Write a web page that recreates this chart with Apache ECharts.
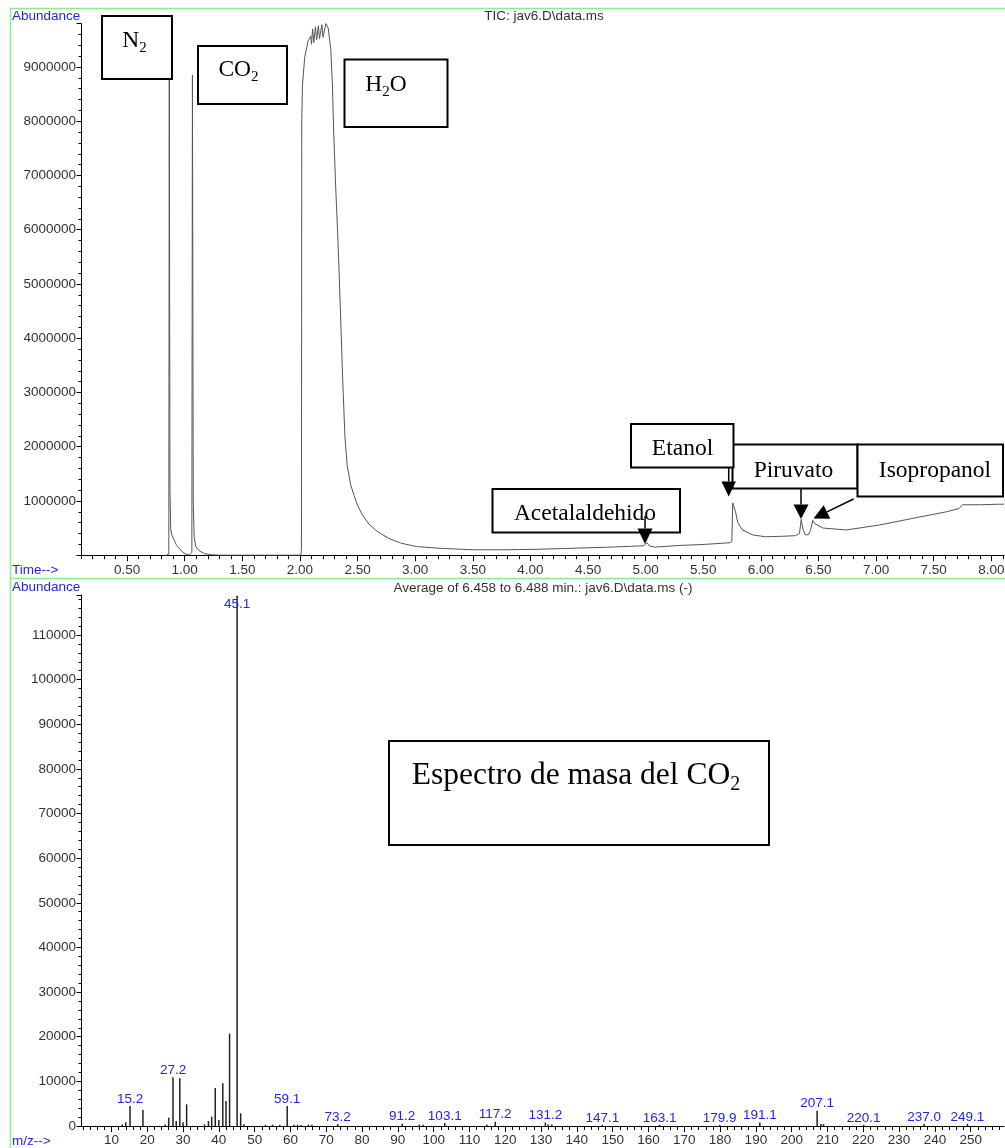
<!DOCTYPE html>
<html><head><meta charset="utf-8">
<script src="https://cdn.jsdelivr.net/npm/echarts@6/dist/echarts.min.js"></script>
<style>html,body{margin:0;padding:0;background:#fff}#c{width:1005px;height:1148px}</style>
</head><body><div id="c"></div>
<script>
// ---------- DATA ----------
// Total ion chromatogram (time in min, abundance)
const ticTime = [
  0.84, 0.862, 0.866, 0.872, 0.879, 0.89, 0.908, 0.93, 0.951, 0.98, 1.01, 1.04, 1.055,
  1.062, 1.067, 1.074, 1.082, 1.096, 1.125, 1.17, 1.22, 1.30,
  2.008, 2.013, 2.016, 2.022, 2.042, 2.071, 2.094,
  2.10, 2.11, 2.12, 2.135, 2.145, 2.16, 2.17, 2.19, 2.20, 2.225, 2.245,
  2.268, 2.282, 2.293, 2.31, 2.33, 2.35, 2.37, 2.39, 2.41, 2.44, 2.47, 2.50, 2.54, 2.60, 2.67, 2.77, 2.88, 3.01, 3.21, 3.50,
  3.80, 4.08, 4.40, 4.66, 4.94, 4.985, 5.01, 5.035, 5.08, 5.30, 5.52, 5.73, 5.748,
  5.756, 5.768, 5.78, 5.80, 5.84, 5.93, 6.04, 6.20, 6.30, 6.335, 6.35, 6.365, 6.385, 6.41, 6.43, 6.45, 6.47, 6.54, 6.74, 7.03, 7.32, 7.61, 7.72, 7.75, 7.78, 7.90, 8.07, 8.11
];
const ticAbund = [
  0, 20000, 9100000, 1200000, 470000, 360000, 280000, 180000, 128000, 60000, 20000, 5000, 0,
  50000, 8850000, 1000000, 340000, 158000, 84000, 30000, 10000, 0,
  0, 100000, 8030000, 8670000, 9190000, 9480000, 9570000,
  9420000, 9700000, 9450000, 9740000, 9500000, 9760000, 9520000, 9780000, 9550000, 9800000, 9720000,
  9320000, 8670000, 7800000, 6800000, 5800000, 4600000, 3300000, 2200000, 1650000, 1300000, 1100000, 920000, 750000, 570000, 440000, 310000, 220000, 160000, 128000, 100000,
  100000, 110000, 130000, 146000, 170000, 175000, 230000, 170000, 150000, 180000, 200000, 230000, 250000,
  960000, 990000, 800000, 600000, 465000, 373000, 340000, 350000, 360000, 400000, 660000, 480000, 380000, 373000, 450000, 640000, 580000, 500000, 465000, 557000, 680000, 800000, 860000, 930000, 930000, 930000, 940000, 940000
];
// Mass spectrum (m/z, abundance)
const mzValues = [13.0, 14.0, 15.2, 18.8, 25.0, 26.0, 27.2, 28.1, 29.1, 30.0, 31.0, 36.0, 37.1, 38.0, 39.0, 40.0, 41.1, 42.0, 43.0, 45.1, 46.1, 47.0,
  53.0, 55.0, 57.0, 59.1, 61.0, 62.0, 63.0, 65.0, 66.0, 73.2, 91.2, 96.0, 97.0, 103.1, 114.9, 117.2, 131.2, 132.0, 133.0,
  147.1, 163.1, 179.9, 191.1, 207.1, 208.2, 208.9, 220.1, 237.0, 249.1];
const mzAbund = [350, 820, 4480, 3590, 350, 1870, 10900, 1120, 10680, 820, 4860, 350, 1120, 2090, 8520, 1340, 9560, 5600, 20690, 118800, 2840, 370,
  250, 300, 250, 4480, 300, 300, 250, 300, 300, 450, 500, 300, 300, 650, 300, 950, 750, 350, 350,
  250, 250, 250, 800, 3430, 450, 400, 250, 450, 450];
const mzLabeled = [15.2, 27.2, 45.1, 59.1, 73.2, 91.2, 103.1, 117.2, 131.2, 147.1, 163.1, 179.9, 191.1, 207.1, 220.1, 237.0, 249.1];
// Tick labels
const timeTickLabels = ['0.50','1.00','1.50','2.00','2.50','3.00','3.50','4.00','4.50','5.00','5.50','6.00','6.50','7.00','7.50','8.00'];
const mzTickLabels = [10,20,30,40,50,60,70,80,90,100,110,120,130,140,150,160,170,180,190,200,210,220,230,240,250];

// ---------- CHART ----------
const SANS = '"Liberation Sans", Arial, Helvetica, sans-serif';
const SERIF = '"Liberation Serif", "Times New Roman", serif';
const BLUE = '#2323f5';
const timeMajor = timeTickLabels.map(Number);
const timeMinor = []; for (let i = 1; i <= 81; i++) timeMinor.push(+(i / 10).toFixed(1));
const mzMinor = []; for (let v = 2; v <= 258; v += 2) mzMinor.push(v);

const axTxt = { color: '#333', fontSize: 13.5, fontFamily: SANS };
const blk = { color: '#000', width: 1 };

function xAx(grid, min, max, major, minor, fmt, margin) {
  return [
    { gridIndex: grid, type: 'value', position: 'bottom', min: min, max: max,
      axisLine: { show: true, onZero: false, lineStyle: blk },
      axisTick: { show: true, customValues: major, length: 6, lineStyle: blk },
      axisLabel: Object.assign({ show: true, customValues: major, formatter: fmt, margin: margin }, axTxt),
      splitLine: { show: false } },
    { gridIndex: grid, type: 'value', position: 'bottom', min: min, max: max,
      axisLine: { show: false, onZero: false },
      axisTick: { show: true, customValues: minor, length: 4, lineStyle: blk },
      axisLabel: { show: false }, splitLine: { show: false } }
  ];
}
function yAx(grid, max, interval, hideZero) {
  return { gridIndex: grid, type: 'value', min: 0, max: max, interval: interval,
    axisLine: { show: true, onZero: false, lineStyle: blk },
    axisTick: { show: true, length: 4.5, lineStyle: blk },
    minorTick: { show: true, splitNumber: 5, length: 2.5, lineStyle: blk },
    axisLabel: Object.assign({ margin: 5, showMaxLabel: false,
      formatter: v => ((hideZero && v === 0) || (v % interval !== 0)) ? '' : String(v) }, axTxt),
    splitLine: { show: false }, minorSplitLine: { show: false } };
}

function txt(text, x, y, opts) {
  return { type: 'text', z: 100, style: Object.assign({ text: text, x: x, y: y, fill: '#333',
    font: '13.5px ' + SANS, align: 'left', verticalAlign: 'middle' }, opts || {}) };
}
function hline(x1, y1, x2, y2, color, w) {
  return { type: 'line', z: 100, shape: { x1: x1, y1: y1, x2: x2, y2: y2 }, style: { stroke: color, lineWidth: w } };
}
function box(x, y, w, h) {
  return { type: 'rect', z: 100, shape: { x: x, y: y, width: w, height: h }, style: { fill: '#fff', stroke: '#000', lineWidth: 2 } };
}
function chem(parts, cx, cy, size, subSize, pad) {
  const text = parts.map(p => '{' + p[0] + '|' + p[1] + '}').join('');
  return { type: 'text', z: 110, style: { text: text, x: cx, y: cy, align: 'center', verticalAlign: 'middle', fill: '#000',
    rich: { m: { fontSize: size, fontFamily: SERIF, fill: '#000' },
            s: { fontSize: subSize, fontFamily: SERIF, fill: '#000', padding: [pad, 0, 0, 0] } } } };
}
function arrow(x1, y1, x2, y2, len, half) {
  const dx = x2 - x1, dy = y2 - y1, L = Math.hypot(dx, dy), ux = dx / L, uy = dy / L;
  const bx = x2 - ux * len, by = y2 - uy * len, px = -uy * half, py = ux * half;
  return [
    { type: 'line', z: 105, shape: { x1: x1, y1: y1, x2: bx, y2: by }, style: { stroke: '#000', lineWidth: 1.5 } },
    { type: 'polygon', z: 105, shape: { points: [[bx + px, by + py], [bx - px, by - py], [x2, y2]] }, style: { fill: '#000' } }
  ];
}

const GREEN = '#8ced8c';
const graphics = [
  hline(10, 8.5, 1005, 8.5, GREEN, 1.5),
  hline(10.5, 8, 10.5, 1148, GREEN, 1.5),
  hline(10, 578.5, 1005, 578.5, GREEN, 1.5),
  txt('Abundance', 12, 16, { fill: BLUE }),
  txt('Time-->', 12, 570.5, { fill: BLUE }),
  txt('Abundance', 12, 587.5, { fill: BLUE }),
  txt('m/z-->', 12, 1141.5, { fill: BLUE }),
  txt('TIC: jav6.D\\data.ms', 544, 16.5, { align: 'center' }),
  txt('Average of 6.458 to 6.488 min.: jav6.D\\data.ms (-)', 543, 588, { align: 'center' }),
  box(102, 16, 70, 63), chem([['m', 'N'], ['s', '2']], 134.5, 41, 23.5, 15, 14),
  box(198, 46, 89, 58), chem([['m', 'CO'], ['s', '2']], 238.5, 70, 23.5, 15, 14),
  box(344.5, 59.5, 103, 67.5), chem([['m', 'H'], ['s', '2'], ['m', 'O']], 386, 85, 23.5, 15, 14),
  box(492.5, 489, 187.5, 43.5), chem([['m', 'Acetalaldehido']], 585, 514, 23.5, 15, 14),
  ...arrow(645, 516, 645, 544, 15.5, 7.5),
  box(732.5, 444.5, 125, 44), chem([['m', 'Piruvato']], 793.5, 471, 23.5, 15, 14),
  box(857.5, 444.5, 145.5, 52), chem([['m', 'Isopropanol']], 935, 471, 23.5, 15, 14),
  box(631, 424, 102.5, 43.5), chem([['m', 'Etanol']], 682.5, 449, 23.5, 15, 14),
  ...arrow(728.7, 467, 728.7, 496.5, 15, 7.2),
  ...arrow(801, 488.5, 801, 519, 14.5, 7.5),
  ...arrow(853.5, 499, 813.5, 518.5, 15, 7.5),
  box(389, 741, 380, 104), chem([['m', 'Espectro de masa del CO'], ['s', '2']], 576, 776, 31.5, 20, 18)
];

const chart = echarts.init(document.getElementById('c'), null, { renderer: 'canvas' });
chart.setOption({
  animation: false,
  backgroundColor: '#fff',
  grid: [
    { left: 81, right: 1, top: 23.6, height: 531.6, outerBoundsMode: 'none', containLabel: false },
    { left: 81, right: 1, top: 594.8, height: 531.2, outerBoundsMode: 'none', containLabel: false }
  ],
  xAxis: [
    ...xAx(0, 0.1, 8.11, timeMajor, timeMinor, v => v.toFixed(2), 8),
    ...xAx(1, 1.5, 259.3, mzTickLabels, mzMinor, v => String(v), 7)
  ],
  yAxis: [ yAx(0, 9800000, 1000000, true), yAx(1, 119000, 10000, false) ],
  series: [
    { type: 'line', xAxisIndex: 0, yAxisIndex: 0, showSymbol: false, symbol: 'none',
      lineStyle: { color: '#555', width: 1 }, sampling: null,
      data: ticTime.map((t, i) => [t, ticAbund[i]]) },
    { type: 'bar', xAxisIndex: 2, yAxisIndex: 1, barWidth: 1.5,
      itemStyle: { color: '#222' },
      label: { show: false, position: 'top', distance: 0, color: BLUE, fontSize: 13.5, fontFamily: SANS,
        formatter: p => p.value[0].toFixed(1) },
      data: mzValues.map((m, i) => {
        const lab = mzLabeled.indexOf(m) >= 0;
        const isMax = mzAbund[i] === Math.max(...mzAbund);
        return { value: [m, mzAbund[i]],
          label: { show: lab, position: isMax ? 'insideTop' : 'top', distance: isMax ? 2 : 0 } };
      }) }
  ],
  graphic: { elements: graphics }
});
</script></body></html>
